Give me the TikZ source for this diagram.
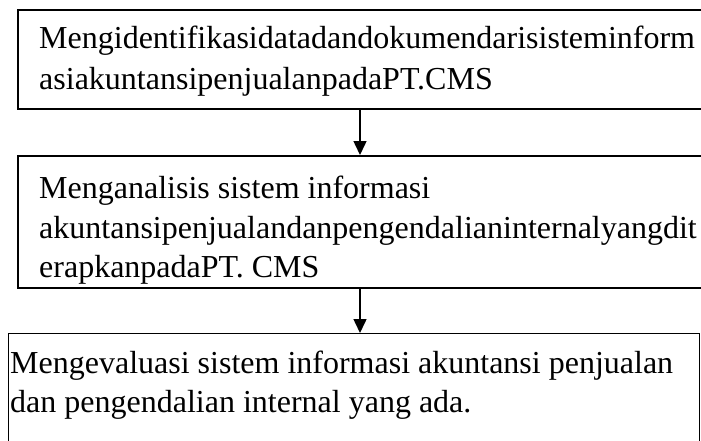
\documentclass[tikz,border=0pt]{standalone}
\usepackage{fontspec}
\setmainfont{Liberation Serif}
\usetikzlibrary{arrows.meta}
\begin{document}
\begin{tikzpicture}[x=1pt,y=-1pt,
  boxa/.style={draw,line width=2pt,rectangle,inner sep=0pt,anchor=north west},
  boxb/.style={draw,line width=1.4pt,rectangle,inner sep=0pt,anchor=north west},
  txt/.style={anchor=base west,inner sep=0pt,font=\fontsize{32}{41}\selectfont},
  arr/.style={line width=1.5pt,-{Triangle[length=14pt,width=13pt]}}]
\useasboundingbox (0,0) rectangle (701,440);
\clip (0,0) rectangle (701,440);
\node[boxa,minimum width=710pt,minimum height=99pt] (b1) at (17,9) {};
\node[boxa,minimum width=710pt,minimum height=132pt] (b2) at (17,155) {};
\node[boxb,minimum width=691pt,minimum height=130pt] (b3) at (8,333) {};
\node[txt] (t1a) at (39,48) {Mengidentifikasidatadandokumendarisisteminform};
\node[txt] (t1b) at (39,89) {asiakuntansipenjualanpadaPT.CMS};
\node[txt] (t2a) at (39,198) {Menganalisis sistem informasi};
\node[txt] (t2b) at (39,238) {akuntansipenjualandanpengendalianinternalyangdit};
\node[txt] (t2c) at (39,277) {erapkanpadaPT. CMS};
\node[txt] (t3a) at (10,373) {Mengevaluasi sistem informasi akuntansi penjualan};
\node[txt] (t3b) at (10,412) {dan pengendalian internal yang ada.};
\coordinate (ax) at (360,0);
\draw[arr] (b1.south -| ax) -- (b2.north -| ax);
\draw[arr] (b2.south -| ax) -- (b3.north -| ax);
\end{tikzpicture}
\end{document}
